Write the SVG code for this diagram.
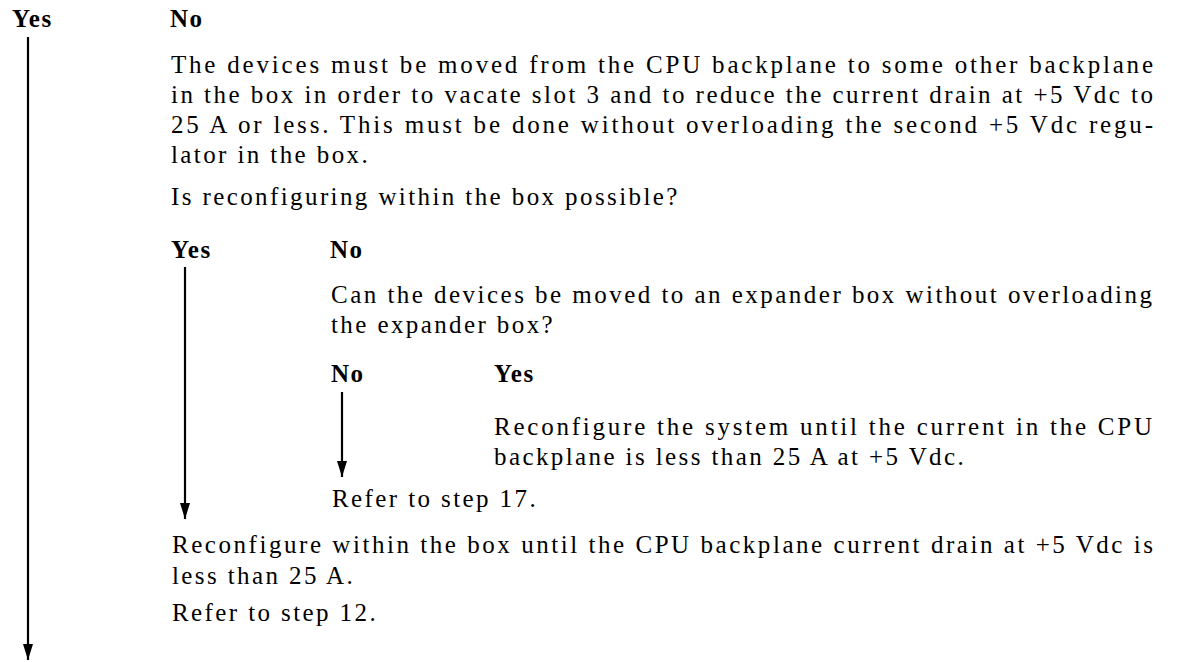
<svg xmlns="http://www.w3.org/2000/svg" width="1180" height="662" viewBox="0 0 1180 662">
<defs>
<style>
.t{font-family:"Liberation Serif","Times New Roman",serif;font-size:25px;fill:#000;letter-spacing:2.4px}
.j{font-family:"Liberation Serif","Times New Roman",serif;font-size:25px;fill:#000}
.b{font-family:"Liberation Serif","Times New Roman",serif;font-size:25px;font-weight:bold;fill:#000;letter-spacing:1.5px}
.c{stroke:#000;stroke-width:2.2;fill:none}
</style>
<marker id="ah" markerUnits="userSpaceOnUse" markerWidth="16" markerHeight="10" refX="16" refY="5" orient="auto">
<path d="M0,0 L16,5 L0,10 z" fill="#000"/>
</marker>
</defs>
<rect width="1180" height="662" fill="#fff"/>
<g id="connectors">
<line class="c" x1="28" y1="37" x2="28" y2="660" marker-end="url(#ah)"/>
<line class="c" x1="185" y1="267" x2="185" y2="519" marker-end="url(#ah)"/>
<line class="c" x1="342" y1="392" x2="342" y2="477" marker-end="url(#ah)"/>
</g>
<g id="yes1"><text class="b" x="12" y="27">Yes</text></g>
<g id="no1"><text class="b" x="170" y="27">No</text></g>
<g id="move-devices">
<text class="j" x="171" y="73" textLength="982" lengthAdjust="spacing">The devices must be moved from the CPU backplane to some other backplane</text>
<text class="j" x="171" y="103" textLength="982" lengthAdjust="spacing">in the box in order to vacate slot 3 and to reduce the current drain at +5 Vdc to</text>
<text class="j" x="171" y="133" textLength="982" lengthAdjust="spacing">25 A or less. This must be done without overloading the second +5 Vdc regu-</text>
<text class="t" x="171" y="163">lator in the box.</text>
</g>
<g id="q-reconfigure"><text class="t" x="171" y="205">Is reconfiguring within the box possible?</text></g>
<g id="yes2"><text class="b" x="171" y="258">Yes</text></g>
<g id="no2"><text class="b" x="330" y="258">No</text></g>
<g id="q-expander">
<text class="j" x="331" y="303" textLength="821" lengthAdjust="spacing">Can the devices be moved to an expander box without overloading</text>
<text class="t" x="331" y="333">the expander box?</text>
</g>
<g id="no3"><text class="b" x="331" y="382">No</text></g>
<g id="yes3"><text class="b" x="494" y="382">Yes</text></g>
<g id="reconfigure-system">
<text class="j" x="494" y="435" textLength="658" lengthAdjust="spacing">Reconfigure the system until the current in the CPU</text>
<text class="t" x="494" y="465">backplane is less than 25 A at +5 Vdc.</text>
</g>
<g id="step17"><text class="t" x="332" y="507">Refer to step 17.</text></g>
<g id="reconfigure-box">
<text class="j" x="172" y="553" textLength="981" lengthAdjust="spacing">Reconfigure within the box until the CPU backplane current drain at +5 Vdc is</text>
<text class="t" x="172" y="584">less than 25 A.</text>
</g>
<g id="step12"><text class="t" x="172" y="621">Refer to step 12.</text></g>
</svg>
